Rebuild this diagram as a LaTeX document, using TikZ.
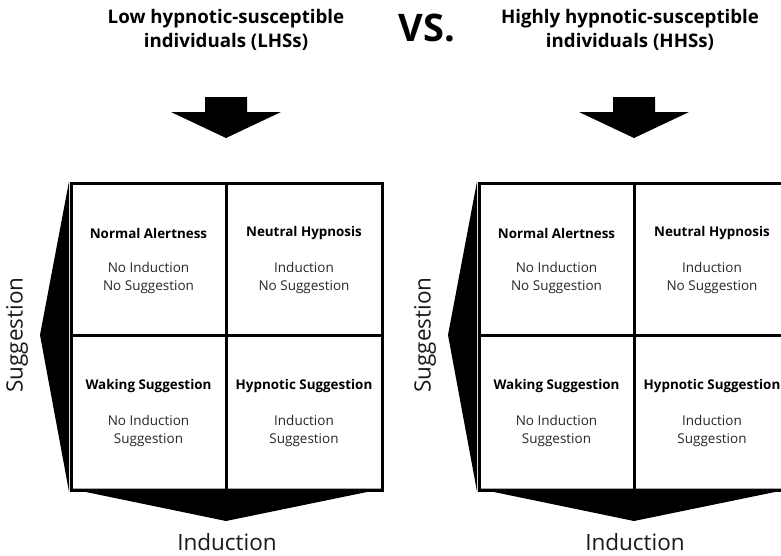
\documentclass[tikz,border=0pt]{standalone}
\usepackage{fontspec}
\setmainfont{Open Sans}
\begin{document}
\begin{tikzpicture}[x=1pt,y=-1pt,
  frame/.style={line width=3pt},
  wedge/.style={fill=black,draw=none},
  celltitle/.style={font=\bfseries\fontsize{13.4}{15}\selectfont},
  cellbody/.style={align=center,font=\fontsize{13.5}{18}\selectfont,text=black!85},
  axislabel/.style={font=\fontsize{22.5}{24}\selectfont,text=black!90},
  grouptitle/.style={align=center,font=\bfseries\fontsize{18.7}{24}\selectfont},
  bigarrow/.style={fill=black,draw=none}]
\useasboundingbox (0,0) rectangle (781,555);
\clip (0,0) rectangle (781,555);

% titles
\node[grouptitle] (tl) at (226,30) {Low hypnotic-susceptible\\individuals (LHSs)};
\node[font=\bfseries\fontsize{38}{40}\selectfont] (vs) at (427,28) {VS.};
\node[grouptitle] (tr) at (630,30) {Highly hypnotic-susceptible\\individuals (HHSs)};

\foreach \dx/\p in {0/L,408/R}{
  \begin{scope}[xshift=\dx]
    % arrow
    \fill[bigarrow] (205,97) -- (247,97) -- (247,112) -- (281,112) -- (226,138)
      -- (171,112) -- (205,112) -- cycle;
    % wedges
    \fill[wedge] (69,181.5) -- (40,335) -- (69,491.5) -- cycle;
    \fill[wedge] (69,488.5) -- (226,521) -- (384,488.5) -- cycle;
    % frame
    \draw[frame] (71,183) rectangle (382,490);
    \draw[frame] (226,183) -- (226,490);
    \draw[frame] (71,335) -- (382,335);
    % cells
    \node[celltitle] (\p na) at (148.5,233) {Normal Alertness};
    \node[cellbody]  (\p nab) at (148.5,278) {No Induction\\No Suggestion};
    \node[celltitle] (\p nh) at (304,233) {Neutral Hypnosis};
    \node[cellbody]  (\p nhb) at (304,278) {Induction\\No Suggestion};
    \node[celltitle] (\p ws) at (148.5,386) {Waking Suggestion};
    \node[cellbody]  (\p wsb) at (148.5,431) {No Induction\\Suggestion};
    \node[celltitle] (\p hs) at (304,386) {Hypnotic Suggestion};
    \node[cellbody]  (\p hsb) at (304,431) {Induction\\Suggestion};
    % axis labels
    \node[axislabel,rotate=90] (\p sug) at (17,335) {Suggestion};
    \node[axislabel] (\p ind) at (227,542) {Induction};
  \end{scope}
}
\end{tikzpicture}
\end{document}
